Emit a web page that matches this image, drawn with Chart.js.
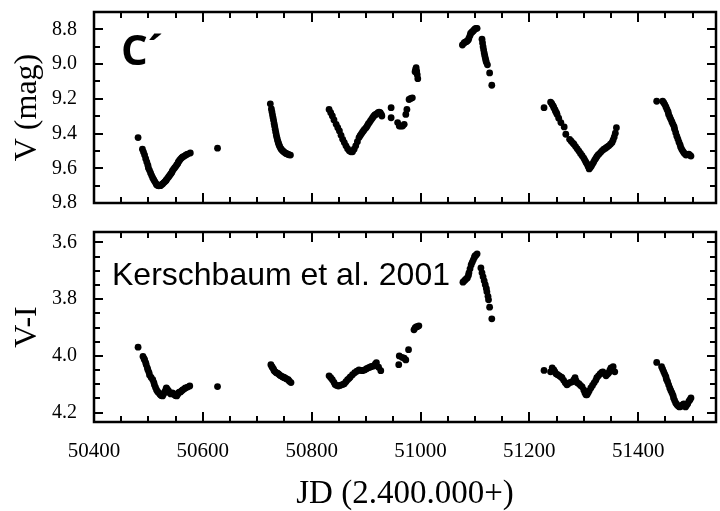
<!DOCTYPE html>
<html>
<head>
<meta charset="utf-8">
<title>C´ – V and V-I light curves</title>
<script src="https://cdn.jsdelivr.net/npm/chart.js@4.4.1/dist/chart.umd.min.js"></script>
<style>
  body { margin: 0; background: #fff; }
  #wrap { position: relative; width: 720px; height: 511px; overflow: hidden; }
  canvas { position: absolute; left: 0; }
  #topChart { top: 0; }
  #botChart { top: 220px; }
  .note { position: absolute; color: #000; white-space: nowrap; line-height: 1; }
  #labelC { left: 121px; top: 20px; font: bold 42px 'Open Sans', sans-serif; }
  #labelRef { left: 112px; top: 256px; font: 32px 'Liberation Sans', Arial, sans-serif; }
</style>
</head>
<body>
<div id="wrap">
  <canvas id="topChart" width="720" height="215"></canvas>
  <canvas id="botChart" width="720" height="291"></canvas>
  <div class="note" id="labelC">C´</div>
  <div class="note" id="labelRef">Kerschbaum et al. 2001</div>
</div>
<script>
// V magnitude (upper panel)
const vJD = [
  50481, 50489, 50491, 50493, 50495, 50497, 50499, 50500, 50502, 50504, 50506, 50508, 50510, 50512,
  50514, 50515, 50517, 50519, 50521, 50522, 50524, 50526, 50528, 50530, 50532, 50533, 50535, 50537,
  50539, 50541, 50543, 50544, 50546, 50548, 50550, 50552, 50554, 50555, 50557, 50559, 50561, 50563,
  50566, 50569, 50572, 50577,
  50627,
  50724, 50726, 50727, 50728, 50729, 50730, 50731, 50732, 50733, 50734, 50735, 50736, 50737, 50738,
  50739, 50740, 50741, 50743, 50744, 50746, 50748, 50750, 50752, 50754, 50756, 50758, 50761,
  50832, 50835, 50838, 50841, 50845, 50848, 50851, 50854, 50857, 50860, 50863, 50866, 50869, 50872,
  50875, 50878, 50881, 50884, 50887, 50889, 50891, 50893, 50895, 50897, 50900, 50902, 50904, 50906,
  50908, 50910, 50912, 50914, 50916, 50918, 50920, 50922, 50924, 50926, 50928, 50929,
  50946, 50946, 50958, 50961, 50964, 50967, 50970, 50973, 50975, 50979, 50982, 50985,
  50990, 50991, 50992, 50993, 50994, 50995,
  51077, 51080, 51082, 51084, 51086, 51088, 51089, 51091, 51092, 51094, 51095, 51097, 51098, 51100,
  51102, 51104, 51113, 51114, 51115, 51116, 51117, 51118, 51119, 51120, 51121, 51123, 51127, 51131,
  51227, 51239, 51241, 51242, 51244, 51245, 51247, 51248, 51250, 51251, 51254, 51258, 51264, 51267,
  51274, 51277, 51280, 51282, 51285, 51288, 51291, 51294, 51297, 51300, 51302, 51304, 51306, 51308,
  51310, 51312, 51314, 51316, 51318, 51320, 51322, 51324, 51326, 51328, 51331, 51334, 51337, 51340,
  51343, 51346, 51349, 51352, 51354, 51356, 51358, 51360,
  51434, 51445, 51447, 51449, 51451, 51453, 51455, 51456, 51458, 51460, 51462, 51464, 51466, 51467,
  51469, 51471, 51473, 51475, 51477, 51478, 51480, 51482, 51484, 51486, 51488, 51490, 51493, 51495, 51497
];
const vMag = [
  9.423, 9.490, 9.507, 9.524, 9.545, 9.564, 9.582, 9.598, 9.612, 9.627, 9.642, 9.656, 9.667, 9.678,
  9.688, 9.695, 9.699, 9.701, 9.700, 9.700, 9.695, 9.690, 9.684, 9.678, 9.672, 9.667, 9.658, 9.650,
  9.641, 9.633, 9.624, 9.615, 9.606, 9.598, 9.590, 9.581, 9.572, 9.564, 9.555, 9.547, 9.540, 9.535,
  9.530, 9.523, 9.518, 9.512,
  9.484,
  9.229, 9.258, 9.275, 9.292, 9.308, 9.324, 9.342, 9.358, 9.375, 9.392, 9.408, 9.422, 9.435, 9.446,
  9.456, 9.465, 9.473, 9.485, 9.490, 9.497, 9.503, 9.508, 9.513, 9.516, 9.519, 9.522, 9.524,
  9.261, 9.280, 9.299, 9.322, 9.347, 9.366, 9.385, 9.410, 9.433, 9.452, 9.471, 9.487, 9.499, 9.505,
  9.505, 9.490, 9.471, 9.447, 9.423, 9.412, 9.403, 9.394, 9.385, 9.376, 9.366, 9.356, 9.345, 9.337,
  9.327, 9.318, 9.309, 9.300, 9.293, 9.290, 9.285, 9.280, 9.277, 9.280, 9.290, 9.299,
  9.251, 9.309, 9.337, 9.357, 9.357, 9.357, 9.347, 9.290, 9.261, 9.204, 9.198, 9.194,
  9.044, 9.030, 9.021, 9.040, 9.061, 9.084,
  8.890, 8.878, 8.874, 8.871, 8.867, 8.860, 8.850, 8.836, 8.823, 8.818, 8.814, 8.809, 8.804, 8.798,
  8.794, 8.794, 8.857, 8.878, 8.900, 8.918, 8.935, 8.950, 8.964, 8.978, 8.990, 9.004, 9.051, 9.122,
  9.251, 9.219, 9.226, 9.233, 9.242, 9.251, 9.262, 9.271, 9.281, 9.290, 9.312, 9.337, 9.362, 9.404,
  9.433, 9.444, 9.455, 9.461, 9.475, 9.488, 9.501, 9.515, 9.528, 9.541, 9.553, 9.565, 9.575, 9.590,
  9.604, 9.596, 9.587, 9.576, 9.565, 9.553, 9.543, 9.533, 9.524, 9.518, 9.508, 9.498, 9.490, 9.484,
  9.477, 9.471, 9.461, 9.451, 9.437, 9.420, 9.398, 9.366,
  9.214, 9.214, 9.222, 9.233, 9.247, 9.261, 9.276, 9.290, 9.304, 9.318, 9.333, 9.347, 9.361, 9.375,
  9.395, 9.415, 9.432, 9.450, 9.465, 9.478, 9.490, 9.501, 9.510, 9.518, 9.524, 9.520, 9.518, 9.525, 9.530
];

// V-I colour (lower panel)
const viJD = [
  50481, 50490, 50492, 50493, 50495, 50496, 50498, 50499, 50501, 50502, 50505, 50508, 50510, 50511,
  50513, 50515, 50517, 50519, 50521, 50522, 50524, 50526, 50528, 50530, 50532, 50533, 50535, 50537,
  50539, 50541, 50543, 50544, 50546, 50548, 50550, 50552, 50554, 50555, 50557, 50559, 50561, 50563,
  50566, 50568, 50572, 50576,
  50627,
  50725, 50727, 50728, 50730, 50731, 50733, 50735, 50737, 50739, 50741, 50743, 50745, 50747, 50749,
  50750, 50752, 50754, 50757, 50759, 50762,
  50832, 50835, 50838, 50841, 50843, 50846, 50849, 50852, 50855, 50858, 50860, 50863, 50866, 50869,
  50871, 50875, 50879, 50883, 50887, 50890, 50893, 50896, 50898, 50901, 50904, 50907, 50909, 50912,
  50915, 50917, 50919, 50923, 50927,
  50960, 50961, 50966, 50970, 50973, 50978, 50988, 50990, 50992, 50994, 50997,
  51078, 51080, 51082, 51084, 51086, 51088, 51089, 51091, 51093, 51095, 51097, 51099, 51100, 51102,
  51104, 51111, 51113, 51115, 51117, 51119, 51121, 51122, 51124, 51125, 51127, 51131,
  51227, 51239, 51242, 51245, 51247, 51249, 51252, 51255, 51258, 51260, 51263, 51266, 51269, 51271,
  51273, 51276, 51279, 51282, 51284, 51286, 51288, 51291, 51294, 51297, 51300, 51302, 51304, 51306,
  51308, 51310, 51313, 51316, 51319, 51322, 51324, 51327, 51330, 51333, 51335, 51338, 51341, 51344,
  51346, 51348, 51350, 51354, 51357,
  51434, 51443, 51445, 51447, 51449, 51451, 51452, 51454, 51456, 51458, 51460, 51462, 51464, 51465,
  51467, 51469, 51471, 51473, 51475, 51476, 51478, 51480, 51482, 51484, 51486, 51487, 51489, 51491,
  51493, 51495, 51497
];
const viColor = [
  3.969, 4.002, 4.010, 4.014, 4.024, 4.031, 4.042, 4.049, 4.058, 4.067, 4.076, 4.084, 4.094, 4.102,
  4.111, 4.120, 4.126, 4.130, 4.134, 4.137, 4.140, 4.141, 4.134, 4.127, 4.118, 4.113, 4.118, 4.123,
  4.130, 4.134, 4.132, 4.130, 4.134, 4.137, 4.140, 4.141, 4.135, 4.130, 4.128, 4.127, 4.123, 4.120,
  4.116, 4.113, 4.110, 4.106,
  4.108,
  4.031, 4.038, 4.041, 4.047, 4.052, 4.056, 4.059, 4.061, 4.063, 4.067, 4.070, 4.072, 4.074, 4.076,
  4.077, 4.079, 4.081, 4.084, 4.089, 4.094,
  4.070, 4.077, 4.084, 4.093, 4.101, 4.104, 4.106, 4.104, 4.102, 4.100, 4.098, 4.091, 4.084, 4.079,
  4.074, 4.066, 4.059, 4.054, 4.049, 4.051, 4.052, 4.050, 4.049, 4.045, 4.042, 4.040, 4.038, 4.036,
  4.035, 4.028, 4.024, 4.040, 4.052,
  4.031, 4.000, 4.005, 4.008, 4.014, 3.978, 3.908, 3.901, 3.898, 3.897, 3.894,
  3.740, 3.736, 3.732, 3.728, 3.725, 3.716, 3.707, 3.693, 3.679, 3.670, 3.661, 3.653, 3.647, 3.645,
  3.640, 3.690, 3.707, 3.721, 3.735, 3.749, 3.762, 3.774, 3.790, 3.802, 3.828, 3.869,
  4.051, 4.056, 4.042, 4.049, 4.056, 4.063, 4.066, 4.070, 4.074, 4.077, 4.086, 4.095, 4.102, 4.099,
  4.095, 4.093, 4.091, 4.084, 4.077, 4.088, 4.095, 4.098, 4.104, 4.109, 4.120, 4.130, 4.137, 4.137,
  4.130, 4.123, 4.113, 4.104, 4.095, 4.086, 4.077, 4.070, 4.063, 4.058, 4.056, 4.063, 4.070, 4.064,
  4.059, 4.050, 4.042, 4.038, 4.056,
  4.023, 4.038, 4.047, 4.056, 4.065, 4.074, 4.083, 4.091, 4.102, 4.113, 4.122, 4.130, 4.139, 4.148,
  4.157, 4.166, 4.171, 4.176, 4.178, 4.180, 4.178, 4.176, 4.172, 4.169, 4.175, 4.180, 4.174, 4.169,
  4.160, 4.155, 4.148
];

// axes
const jdMin = 50400, jdMax = 51543;
const jdLabels = [50400, 50600, 50800, 51000, 51200, 51400];
const jdMinor = [50450, 50500, 50550, 50650, 50700, 50750, 50850, 50900, 50950, 51050, 51100, 51150,
                 51250, 51300, 51350, 51450, 51500];
const vMin = 8.70, vMax = 9.80;
const vLabels = [8.8, 9.0, 9.2, 9.4, 9.6, 9.8];
const vMinor = [8.9, 9.1, 9.3, 9.5, 9.7];
const viMin = 3.563, viMax = 4.233;
const viLabels = [3.6, 3.8, 4.0, 4.2];
const viMinor = [3.65, 3.7, 3.75, 3.85, 3.9, 3.95, 4.05, 4.1, 4.15];

const serif = 'Liberation Serif';

// frame with inward ticks on all four sides
const frameTicks = {
  id: 'frameTicks',
  afterDatasetsDraw(chart, args, opts) {
    const { ctx, chartArea: a } = chart;
    const xs = chart.scales.x, ys = chart.scales.y;
    ctx.save();
    ctx.strokeStyle = '#000';
    ctx.lineWidth = 2;
    ctx.beginPath();
    const xTick = (v, len) => {
      const p = Math.round(xs.getPixelForValue(v));
      ctx.moveTo(p, a.bottom); ctx.lineTo(p, a.bottom - len);
      ctx.moveTo(p, a.top); ctx.lineTo(p, a.top + len);
    };
    const yTick = (v, len) => {
      const p = Math.round(ys.getPixelForValue(v));
      ctx.moveTo(a.left, p); ctx.lineTo(a.left + len, p);
      ctx.moveTo(a.right, p); ctx.lineTo(a.right - len, p);
    };
    jdLabels.forEach(v => xTick(v, 10));
    jdMinor.forEach(v => xTick(v, 6));
    opts.yMajor.forEach(v => yTick(v, 9));
    opts.yMinor.forEach(v => yTick(v, 6));
    ctx.stroke();
    ctx.lineWidth = 2.5;
    ctx.strokeRect(a.left, a.top, a.right - a.left, a.bottom - a.top);
    ctx.restore();
  }
};

function pts(xs, ys) {
  return xs.map((x, i) => ({ x: x, y: ys[i] }));
}

function dotSet(data) {
  return {
    data: data,
    pointRadius: 3.4,
    pointBorderWidth: 0,
    pointBackgroundColor: '#000',
    showLine: false
  };
}

function yAxis(min, max, labels, title) {
  return {
    type: 'linear',
    reverse: true,
    min: min,
    max: max,
    afterBuildTicks: s => { s.ticks = labels.map(v => ({ value: v })); },
    afterFit: s => { s.width = 94; s.paddingTop = 0; s.paddingBottom = 0; },
    grid: { display: false },
    border: { display: false },
    ticks: {
      padding: 9,
      color: '#000',
      font: { family: serif, size: 20, lineHeight: 1 },
      callback: v => v.toFixed(1)
    },
    title: {
      display: true,
      text: title,
      color: '#000',
      font: { family: serif, size: 32, lineHeight: 1 },
      padding: { top: 12, bottom: 0 }
    }
  };
}

const commonOpts = {
  responsive: false,
  animation: false,
  events: [],
  plugins: { legend: { display: false }, tooltip: { enabled: false } }
};

new Chart(document.getElementById('topChart'), {
  type: 'scatter',
  data: { datasets: [dotSet(pts(vJD, vMag))] },
  plugins: [frameTicks],
  options: Object.assign({}, commonOpts, {
    layout: { padding: { top: 12, right: 3, bottom: 12, left: 0 } },
    plugins: Object.assign({}, commonOpts.plugins, { frameTicks: { yMajor: vLabels, yMinor: vMinor } }),
    scales: {
      x: { type: 'linear', min: jdMin, max: jdMax, display: false },
      y: yAxis(vMin, vMax, vLabels, 'V (mag)')
    }
  })
});

new Chart(document.getElementById('botChart'), {
  type: 'scatter',
  data: { datasets: [dotSet(pts(viJD, viColor))] },
  plugins: [frameTicks],
  options: Object.assign({}, commonOpts, {
    layout: { padding: { top: 12, right: 3, bottom: 0, left: 0 } },
    plugins: Object.assign({}, commonOpts.plugins, { frameTicks: { yMajor: viLabels, yMinor: viMinor } }),
    scales: {
      x: {
        type: 'linear',
        min: jdMin,
        max: jdMax,
        afterBuildTicks: s => { s.ticks = jdLabels.map(v => ({ value: v })); },
        afterFit: s => { s.height = 89; s.paddingLeft = 0; s.paddingRight = 0; },
        grid: { display: false },
        border: { display: false },
        ticks: {
          padding: 11,
          maxRotation: 0,
          color: '#000',
          font: { family: serif, size: 21, lineHeight: 1 },
          callback: v => String(v)
        },
        title: {
          display: true,
          text: 'JD (2.400.000+)',
          color: '#000',
          font: { family: serif, size: 33, lineHeight: 1 },
          padding: { top: 0, bottom: 0 }
        }
      },
      y: yAxis(viMin, viMax, viLabels, 'V-I')
    }
  })
});
</script>
</body>
</html>
